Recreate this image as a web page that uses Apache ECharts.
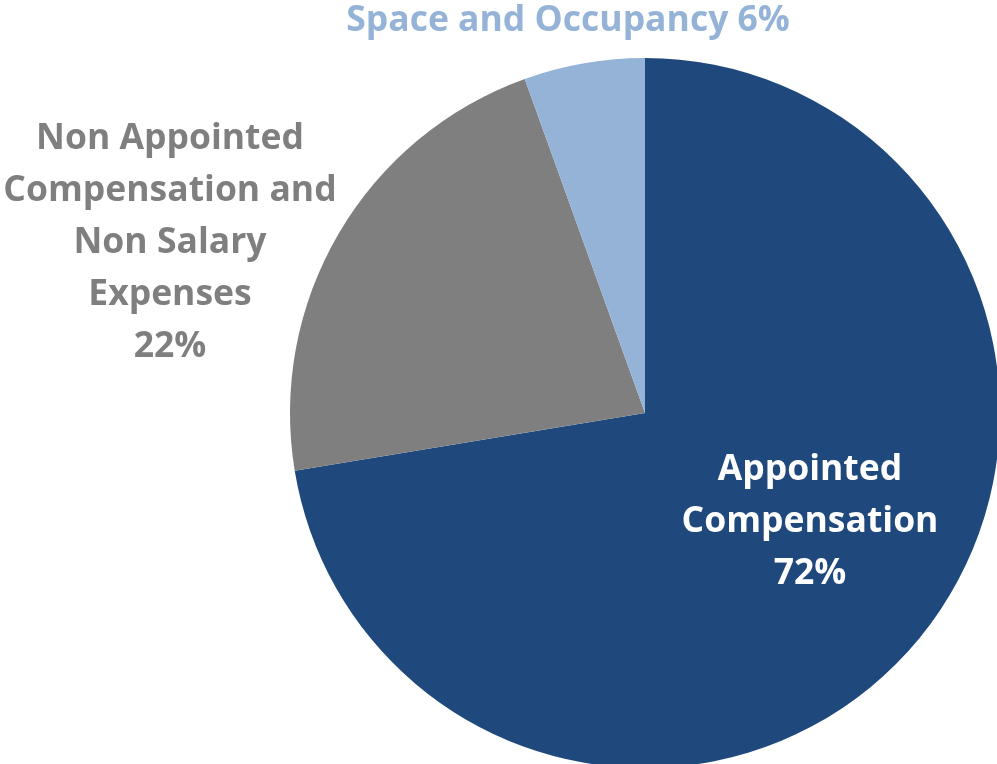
<!DOCTYPE html>
<html>
<head>
<meta charset="utf-8">
<script src="https://cdn.jsdelivr.net/npm/echarts@6/dist/echarts.min.js"></script>
<style>
  html, body { margin: 0; padding: 0; background: #fff; }
  #grafico { width: 997px; height: 764px; }
</style>
</head>
<body>
<div id="grafico"></div>
<script>
  const categorias = ['Appointed\nCompensation', 'Non Appointed\nCompensation and\nNon Salary\nExpenses', 'Space and Occupancy'];
  const valores = [72.4, 22.1, 5.5];
  const colores = ['#1f497d', '#7f7f7f', '#95b3d7'];
  const coloresTexto = ['#ffffff', '#7f7f7f', '#95b3d7'];
  const separador = ['\n', '\n', ' '];

  // dónde va cada etiqueta (centro del bloque de texto)
  const POS_ETIQUETA = [[810, 522], [170, 243], [568, 21]];
  const FUENTE = '"Open Sans", sans-serif';

  const chart = echarts.init(document.getElementById('grafico'), null, { renderer: 'canvas' });

  chart.setOption({
    backgroundColor: '#ffffff',
    animation: false,
    series: [{
      type: 'pie',
      center: [645, 413],
      radius: 355,
      startAngle: 90,
      clockwise: true,
      labelLine: { show: false },
      itemStyle: { borderWidth: 0 },
      emphasis: { disabled: true },
      data: categorias.map((c, i) => ({
        name: c,
        value: valores[i],
        itemStyle: { color: colores[i] },
        label: {
          show: true,
          position: 'inside',
          overflow: 'none',
          formatter: c + separador[i] + Math.round(valores[i]) + '%',
          color: coloresTexto[i],
          fontFamily: FUENTE,
          fontWeight: 'bold',
          fontSize: 35.5,
          lineHeight: 52,
          align: 'center'
        }
      })),
      labelLayout: function (p) {
        const pos = POS_ETIQUETA[p.dataIndex];
        return { x: pos[0], y: pos[1], align: 'center', verticalAlign: 'middle' };
      }
    }]
  });
</script>
</body>
</html>
